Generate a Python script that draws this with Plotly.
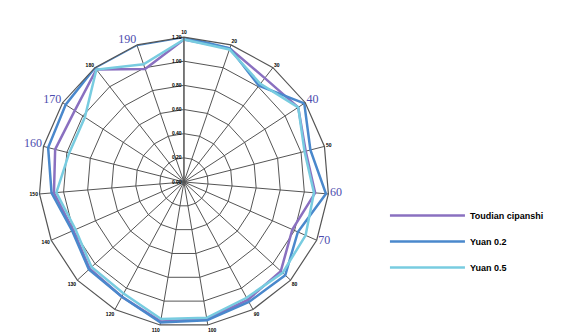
import plotly.graph_objects as go

categories = [str(v) for v in range(10, 200, 10)]  # 19 spokes, clockwise from top
highlight_labels = {"40": "40", "60": "60", "70": "70", "160": "160", "170": "170", "190": "190"}

series_names = ["Toudian cipanshi", "Yuan 0.2", "Yuan 0.5"]
series_1 = [1.18, 1.17, 1.09, 1.13, 1.04, 1.09, 0.98, 1.09, 1.11, 1.15, 1.17, 1.08, 1.06, 1.00, 1.08, 1.10, 1.08, 1.18, 0.99]
series_2 = [1.20, 1.17, 1.01, 1.19, 1.08, 1.18, 1.03, 1.14, 1.13, 1.16, 1.18, 1.08, 1.07, 1.01, 1.10, 1.16, 1.17, 1.20, 1.20]
series_3 = [1.18, 1.16, 1.03, 1.13, 1.03, 1.08, 1.10, 1.11, 1.09, 1.14, 1.15, 1.05, 1.04, 0.98, 1.06, 0.98, 0.98, 1.18, 1.03]
radial_ticks = [0, 0.2, 0.4, 0.6, 0.8, 1.0, 1.2]

colors = ["#8a70c0", "#4a88cc", "#78cce0"]

fig = go.Figure()
for name, vals, col in zip(series_names, [series_1, series_2, series_3], colors):
    fig.add_trace(go.Scatterpolar(
        r=vals + vals[:1],
        theta=categories + categories[:1],
        mode="lines",
        name=name,
        legendgroup=name,
        line=dict(color=col, width=2.5),
    ))

ticktext = []
for c in categories:
    if c in highlight_labels:
        ticktext.append('<span style="font-size:12px;fill:#4c4cae;font-family:Liberation Serif">%s</span>' % highlight_labels[c])
    else:
        ticktext.append("<b>%s</b>" % c)

fig.update_layout(
    width=578, height=335,
    margin=dict(l=0, r=0, t=0, b=0),
    paper_bgcolor="white",
    plot_bgcolor="white",
    showlegend=True,
    polar=dict(
        domain=dict(x=[0.0675, 0.569], y=[0.0239, 0.8896]),
        bgcolor="white",
        gridshape="linear",
        angularaxis=dict(
            type="category",
            categoryarray=categories,
            direction="clockwise",
            rotation=90,
            tickmode="array",
            tickvals=categories,
            ticktext=ticktext,
            tickfont=dict(size=5, color="black", family="Liberation Sans"),
            ticks="",
            showline=True,
            linecolor="#555555",
            linewidth=1.2,
            gridcolor="#555555",
            gridwidth=1.1,
        ),
        radialaxis=dict(
            range=[0, 1.2],
            tickmode="array",
            tickvals=radial_ticks,
            tickformat=".2f",
            angle=90,
            tickangle=90,
            side="counterclockwise",
            tickfont=dict(size=5, color="black", family="Liberation Sans", weight="bold"),
            ticks="",
            showline=True,
            linecolor="#555555",
            linewidth=1.1,
            gridcolor="#555555",
            gridwidth=1.1,
        ),
    ),
    legend=dict(
        x=0.666, y=0.40, xanchor="left", yanchor="top",
        font=dict(size=9, color="black", family="Liberation Sans", weight="bold"),
        tracegroupgap=7,
        itemwidth=75,
        bgcolor="rgba(0,0,0,0)",
    ),
)

fig.write_html("out.html")
